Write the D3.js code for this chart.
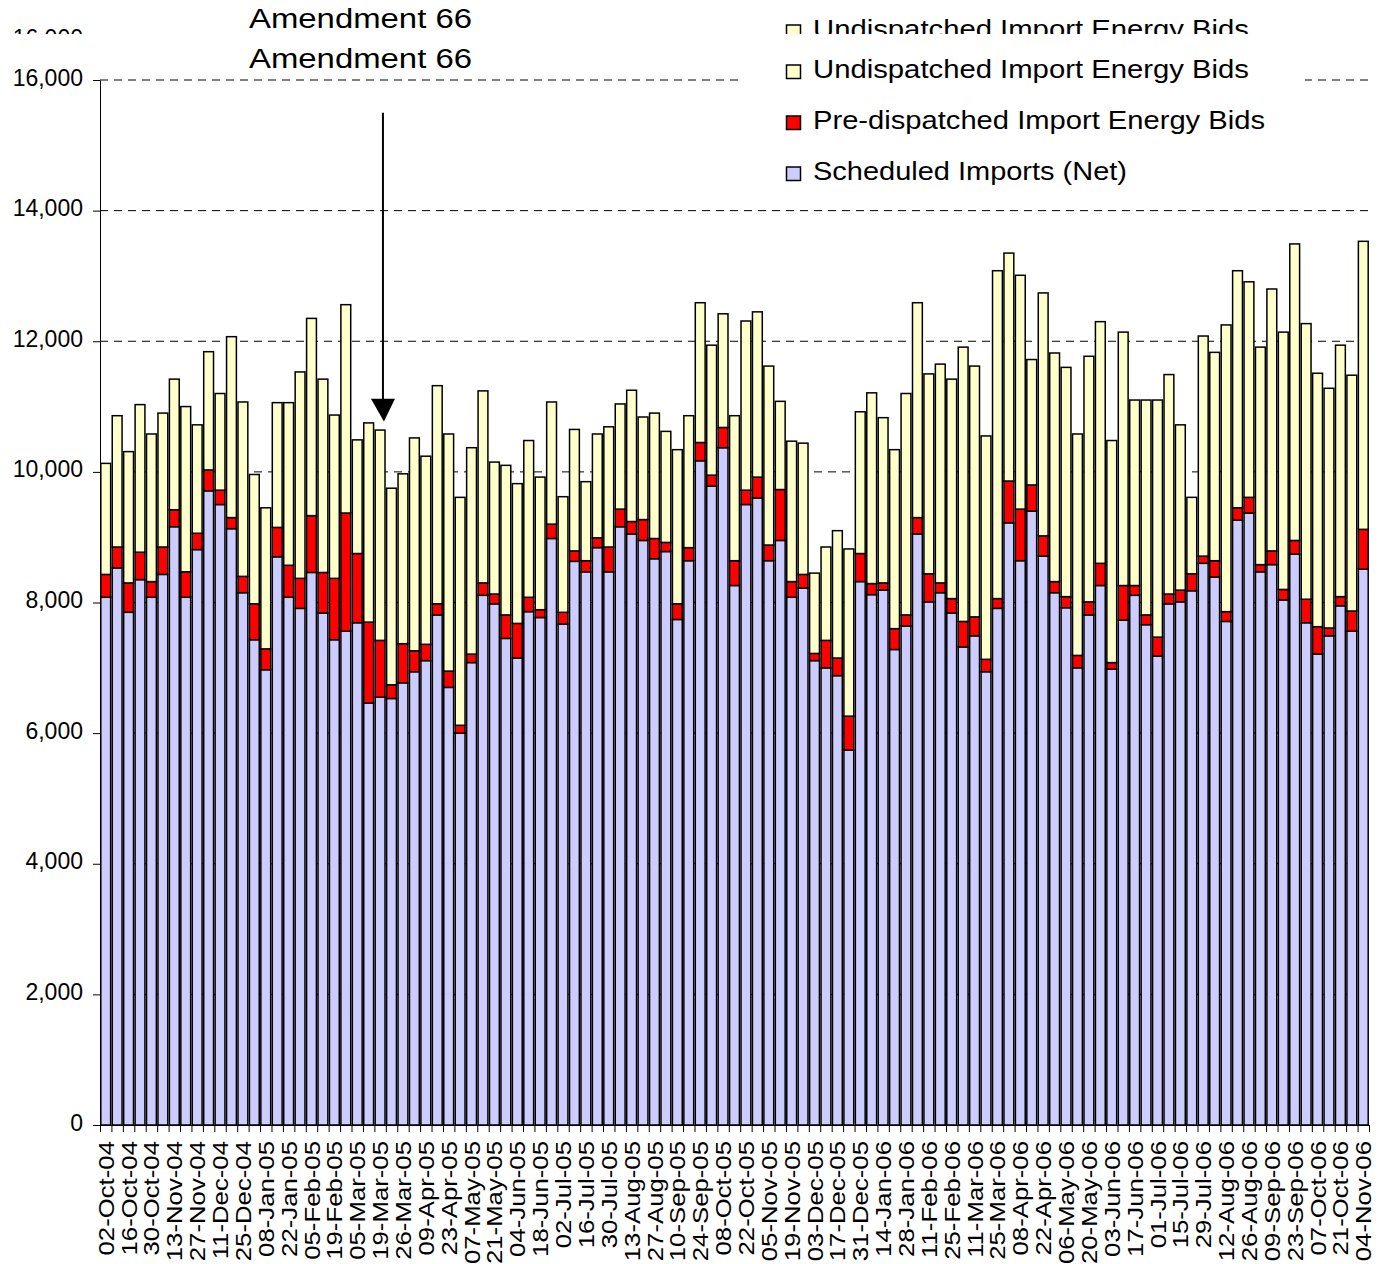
<!DOCTYPE html>
<html lang="en">
<head>
  <meta charset="utf-8">
  <title>Scheduled Imports and Import Energy Bids</title>
  <script src="https://d3js.org/d3.v7.min.js" charset="utf-8"></script>
  <style>
    body { margin: 0; background: white; }
    text { font-family: "Liberation Sans", Arial, sans-serif; fill: black; }
  </style>
</head>
<body>
<svg id="chart" width="1379" height="1264"></svg>
<script>
  // tick labels sit on every other week
  var tickLabels = ["02-Oct-04","16-Oct-04","30-Oct-04","13-Nov-04","27-Nov-04","11-Dec-04","25-Dec-04",
    "08-Jan-05","22-Jan-05","05-Feb-05","19-Feb-05","05-Mar-05","19-Mar-05","26-Mar-05","09-Apr-05",
    "23-Apr-05","07-May-05","21-May-05","04-Jun-05","18-Jun-05","02-Jul-05","16-Jul-05","30-Jul-05",
    "13-Aug-05","27-Aug-05","10-Sep-05","24-Sep-05","08-Oct-05","22-Oct-05","05-Nov-05","19-Nov-05",
    "03-Dec-05","17-Dec-05","31-Dec-05","14-Jan-06","28-Jan-06","11-Feb-06","25-Feb-06","11-Mar-06",
    "25-Mar-06","08-Apr-06","22-Apr-06","06-May-06","20-May-06","03-Jun-06","17-Jun-06","01-Jul-06",
    "15-Jul-06","29-Jul-06","12-Aug-06","26-Aug-06","09-Sep-06","23-Sep-06","07-Oct-06","21-Oct-06",
    "04-Nov-06"];

  var scheduled = [8080,8530,7850,8350,8080,8430,9160,8080,8810,9710,
    9500,9130,8150,7430,6970,8700,8080,7910,8460,7840,
    7430,7560,7690,6460,6550,6530,6770,6940,7110,7810,
    6700,6000,7080,8110,7980,7450,7150,7860,7770,8980,
    7670,8630,8470,8840,8470,9160,9050,8950,8670,8780,
    7740,8640,10170,9780,10370,8260,9500,9600,8640,8950,
    8080,8220,7110,7000,6880,5740,8320,8120,8190,7280,
    7640,9050,8010,8150,7840,7320,7490,6940,7910,9220,
    8640,9400,8710,8150,7920,7000,7810,8260,6980,7730,
    8110,7660,7180,7980,8010,8180,8600,8390,7710,9260,
    9370,8470,8580,8040,8740,7690,7210,7490,7950,7560,
    8510];

  var preDispatched = [350,320,450,420,240,420,260,390,250,320,
    220,170,250,550,320,450,490,460,870,620,
    940,1810,1060,1240,870,210,600,320,250,170,
    250,120,130,190,150,360,530,220,120,220,
    180,160,170,150,380,270,190,320,310,140,
    240,200,280,170,310,380,220,320,240,780,
    240,210,110,420,270,520,430,170,110,320,
    170,250,430,150,220,390,290,190,150,640,
    790,400,310,170,170,190,200,340,100,530,
    150,150,290,150,180,260,110,250,150,190,
    240,110,210,160,210,360,420,120,140,310,
    610];

  var undispatched = [1700,2010,2010,2260,2260,2050,2000,2530,1660,1810,
    1480,2770,2670,1980,2160,1910,2490,3160,3020,2960,
    2500,3190,1740,3050,3220,3010,2600,3260,2880,3340,
    3630,3490,3160,2940,2020,2290,2140,2400,2030,1870,
    1770,1860,1210,1590,1840,1610,2010,1570,1920,1700,
    2360,2020,2140,1990,1740,2220,2590,2530,2740,1350,
    2150,2010,1230,1430,1950,2560,2170,2920,2530,2740,
    3390,3290,3060,3350,3360,4200,3840,3420,5020,3490,
    3580,1920,3720,3500,3510,3390,3760,3700,3400,3880,
    2840,3290,3630,3360,2530,1170,3370,3190,4390,3630,
    3300,3330,4010,3940,4540,4220,3880,3670,3850,3610,
    4410];

  var yTicks = [0, 2000, 4000, 6000, 8000, 10000, 12000, 14000, 16000];
  var seriesKeys = ["scheduled", "pre", "und"];
  var seriesNames = {
    und: "Undispatched Import Energy Bids",
    pre: "Pre-dispatched Import Energy Bids",
    scheduled: "Scheduled Imports (Net)"
  };
  var colors = { scheduled: "#ccccff", pre: "#ff0000", und: "#ffffcc" };

  var n = scheduled.length;
  var rows = d3.range(n).map(function(i) {
    return { i: i, scheduled: scheduled[i], pre: preDispatched[i], und: undispatched[i] };
  });

  var svg = d3.select("#chart"),
      plotLeft = 100, plotRight = 1369, plotTop = 80, plotBottom = 1125;

  var x = d3.scaleBand().domain(d3.range(n)).range([plotLeft, plotRight]).paddingInner(0.14).paddingOuter(0.07);
  var xEdge = d3.scaleLinear().domain([0, n]).range([plotLeft, plotRight]);
  var y = d3.scaleLinear().domain([0, 16000]).range([plotBottom, plotTop]);

  // gridlines
  svg.append("g")
    .selectAll("line")
    .data(yTicks.slice(1))
    .enter().append("line")
    .attr("x1", plotLeft).attr("x2", plotRight - 1)
    .attr("y1", function(d) { return y(d); })
    .attr("y2", function(d) { return y(d); })
    .attr("stroke", "black")
    .attr("stroke-dasharray", "8,6");

  // stacked bars
  var stacked = d3.stack().keys(seriesKeys)(rows);
  svg.append("g")
    .selectAll("g")
    .data(stacked)
    .enter().append("g")
    .attr("fill", function(s) { return colors[s.key]; })
    .selectAll("rect")
    .data(function(s) { return s; })
    .enter().append("rect")
    .attr("x", function(d) { return x(d.data.i); })
    .attr("width", x.bandwidth())
    .attr("y", function(d) { return y(d[1]); })
    .attr("height", function(d) { return y(d[0]) - y(d[1]); })
    .attr("stroke", "black")
    .attr("stroke-width", 1.5);

  // x axis: ticks on category boundaries
  svg.append("g")
    .attr("transform", "translate(0," + plotBottom + ")")
    .call(d3.axisBottom(xEdge).tickValues(d3.range(n + 1)).tickFormat("").tickSize(7).tickSizeOuter(0))
    .call(function(g) { g.selectAll("line, path").attr("stroke", "black"); });

  svg.append("g")
    .selectAll("text")
    .data(tickLabels)
    .enter().append("text")
    .attr("transform", function(d, k) {
      return "translate(" + (x(k * 2) + x.bandwidth() / 2) + "," + (plotBottom + 16) + ") rotate(-90) scale(1.12,1)";
    })
    .attr("text-anchor", "end")
    .attr("dy", "0.35em")
    .attr("font-size", "23px")
    .text(function(d) { return d; });

  function drawHeader(g) {
    // y axis
    g.append("g")
      .attr("transform", "translate(" + plotLeft + ",0)")
      .call(d3.axisLeft(y).tickValues(yTicks).tickFormat(d3.format(",")).tickSize(7).tickPadding(10).tickSizeOuter(0))
      .call(function(a) {
        a.selectAll("line, path").attr("stroke", "black");
        a.selectAll("text").attr("font-size", "23px").attr("dy", "0.22em").attr("fill", "black")
          .attr("font-family", "'Liberation Sans', Arial, sans-serif");
      });

    // legend
    var legend = g.append("g");
    legend.append("rect")
      .attr("x", 740).attr("y", 45).attr("width", 565).attr("height", 150)
      .attr("fill", "white");
    var items = [
      { key: "und", base: 78, len: 436 },
      { key: "pre", base: 129, len: 452 },
      { key: "scheduled", base: 180, len: 314 }
    ];
    items.forEach(function(it) {
      legend.append("rect")
        .attr("x", 786.5).attr("y", it.base - 13).attr("width", 14).attr("height", 13.5)
        .attr("fill", colors[it.key]).attr("stroke", "black").attr("stroke-width", 1.5);
      legend.append("text")
        .attr("x", 813).attr("y", it.base)
        .attr("font-size", "26.5px")
        .attr("textLength", it.len).attr("lengthAdjust", "spacingAndGlyphs")
        .text(seriesNames[it.key]);
    });

    // annotation text
    g.append("text")
      .attr("x", 249).attr("y", 68)
      .attr("font-size", "27px")
      .attr("textLength", 223).attr("lengthAdjust", "spacingAndGlyphs")
      .text("Amendment 66");
  }

  drawHeader(svg.append("g"));

  // arrow to the week of the amendment
  var arrowX = xEdge(24.75);
  svg.append("line")
    .attr("x1", arrowX).attr("x2", arrowX)
    .attr("y1", y(15500)).attr("y2", y(11100))
    .attr("stroke", "black").attr("stroke-width", 2);
  svg.append("path")
    .attr("d", "M" + (arrowX - 12) + "," + y(11120) + "L" + (arrowX + 12) + "," + y(11120) +
      "L" + (arrowX + 1) + "," + y(10770) + "Z")
    .attr("fill", "black");

  // clipped echo of the header along the top edge
  svg.append("clipPath").attr("id", "topclip")
    .append("rect").attr("x", 0).attr("y", 0).attr("width", 1379).attr("height", 34);
  drawHeader(svg.append("g").attr("clip-path", "url(#topclip)")
    .append("g").attr("transform", "translate(0,-40)"));
</script>
</body>
</html>
